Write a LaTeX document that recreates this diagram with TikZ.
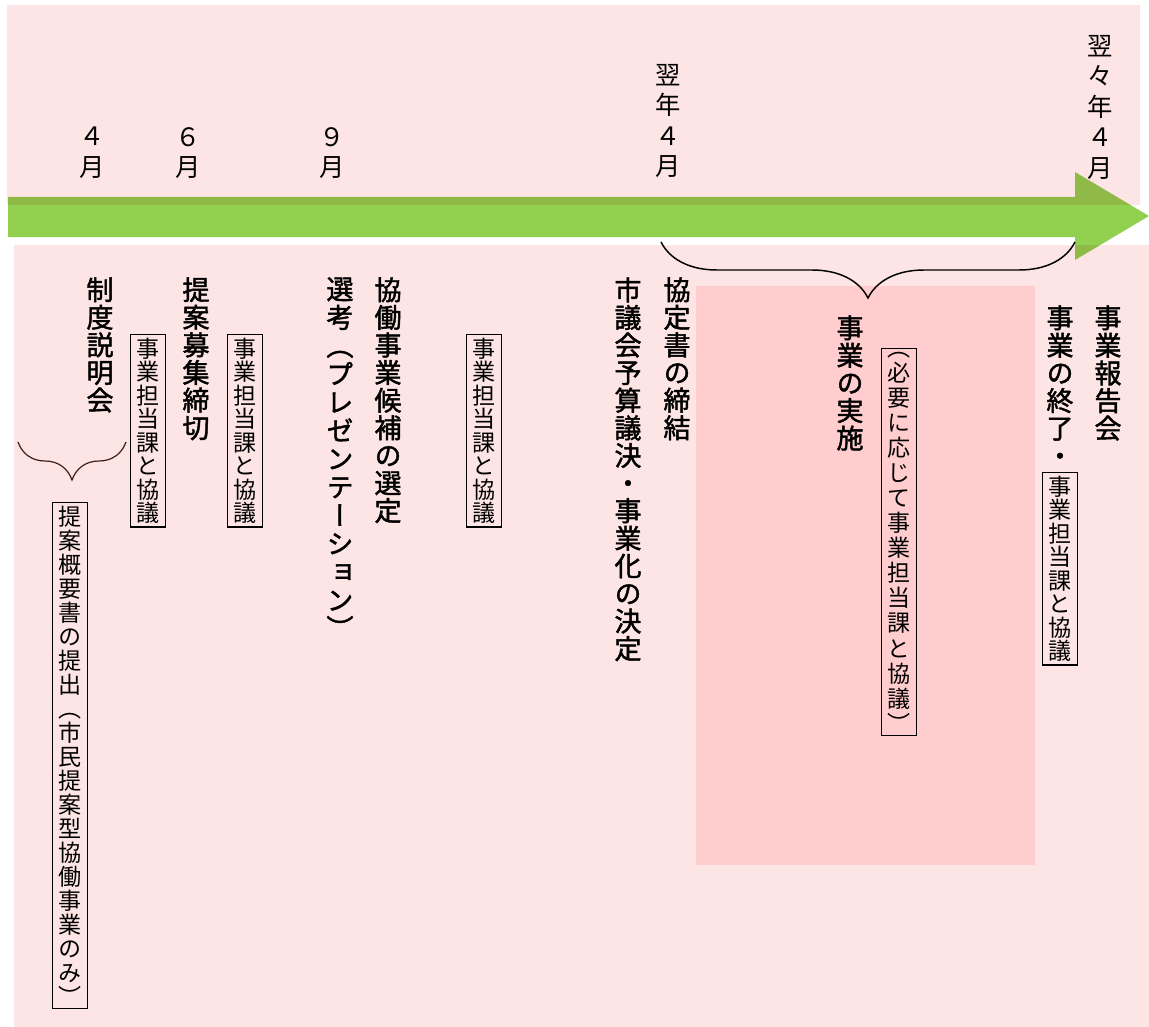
\documentclass[tikz,border=0pt]{standalone}
\usepackage{fontspec}
\usepackage{tikz}
\usetikzlibrary{decorations.pathreplacing, positioning}

\newfontfamily\jp[RawFeature={+vert}]{Noto Sans CJK JP}
\newfontfamily\jpb[RawFeature={+vert},FakeBold=1.6]{Noto Sans CJK JP}

\definecolor{bgpink}{RGB}{253,229,229}
\definecolor{tsupink}{RGB}{255,205,205}
\definecolor{yagi}{RGB}{146,208,80}
\definecolor{kogecha}{RGB}{60,30,30}

% vertical text: one character per line, #1 = pitch
\makeatletter
\newcommand\tate[2]{\vbox{\lineskiplimit=-\maxdimen\baselineskip=#1\relax
  \@tfor\tatechar:=#2\do{\hbox to 1em{\hss\tatechar\hss}}}}
\makeatother

\begin{document}
\begin{tikzpicture}[x=0.75pt, y=-0.75pt,
	big/.style={font=\jpb\fontsize{20.3}{21}\selectfont, inner sep=0pt, anchor=north},
	kyogi/.style={draw, line width=0.9pt, font=\jp\fontsize{17.3}{18}\selectfont, inner xsep=4.5pt, inner ysep=2.5pt, anchor=north},
	tsuki/.style={font=\jp\fontsize{19}{20}\selectfont, inner sep=0pt, anchor=north},
	kakko/.style={decorate, decoration={brace, amplitude=#1}, line width=1.1pt}]
	\useasboundingbox (0,0) rectangle (1149,1027);
	% time arrow
	\fill[yagi] (8,197) -- (1075,197) -- (1075,172) -- (1149,216) -- (1075,260) -- (1075,237) -- (8,237) -- cycle;
	\begin{scope}[blend mode=multiply]
		\fill[bgpink] (7,5) rectangle (1140,205);
		\fill[bgpink] (14,245) rectangle (1149,1027);
	\end{scope}
	\fill[tsupink] (696,286) rectangle (1035,865);
	% months
	\node[tsuki] (m4)  at (92,127)   {\tate{22.9pt}{４月}};
	\node[tsuki] (m6)  at (188,127)  {\tate{22.9pt}{６月}};
	\node[tsuki] (m9)  at (332,127)  {\tate{22.9pt}{９月}};
	\node[tsuki] (y4)  at (668,64)   {\tate{22.9pt}{翌年４月}};
	\node[tsuki] (yy4) at (1100,35)  {\tate{22.9pt}{翌々年４月}};
	% steps
	\node[big] (seido)   at (100,277) {\tate{20.7pt}{制度説明会}};
	\node[big] (boshu)   at (196,277) {\tate{20.7pt}{提案募集締切}};
	\node[big] (senko)   at (340,277) {\tate{21.2pt}{選考（プレゼンテーション）}};
	\node[big] (kouho)   at (388,277) {\tate{20.7pt}{協働事業候補の選定}};
	\node[big] (giketsu) at (628,277) {\tate{20.7pt}{市議会予算議決・事業化の決定}};
	\node[big] (kyotei)  at (677,277) {\tate{20.7pt}{協定書の締結}};
	\node[big] (jisshi)  at (850,315) {\tate{20.7pt}{事業の実施}};
	\node[big] (shuryo)  at (1060,305) {\tate{20.7pt}{事業の終了・}};
	\node[big] (hokoku)  at (1108,305) {\tate{20.7pt}{事業報告会}};
	% talks with the section
	\node[kyogi] (k1) at (148,334) {\tate{17.6pt}{事業担当課と協議}};
	\node[kyogi] (k2) at (245,334) {\tate{17.6pt}{事業担当課と協議}};
	\node[kyogi] (k3) at (484,334) {\tate{17.6pt}{事業担当課と協議}};
	\node[kyogi] (k4) at (1060,472) {\tate{17.6pt}{事業担当課と協議}};
	\node[kyogi] (teishutsu) at (70,502) {\tate{18pt}{提案概要書の提出（市民提案型協働事業のみ）}};
	\node[kyogi] (hitsuyo)   at (899,348) {\tate{18.8pt}{（必要に応じて事業担当課と協議）}};
	% braces
	\coordinate (s1) at (126,442);
	\coordinate (s2) at (18,442);
	\draw[kakko=28.5pt, line width=0.9pt, kogecha] (s1) -- (s2);
	\coordinate (b1) at (1075,242);
	\coordinate (b2) at (661,242);
	\draw[kakko=42pt] (b1) -- (b2);
\end{tikzpicture}
\end{document}
